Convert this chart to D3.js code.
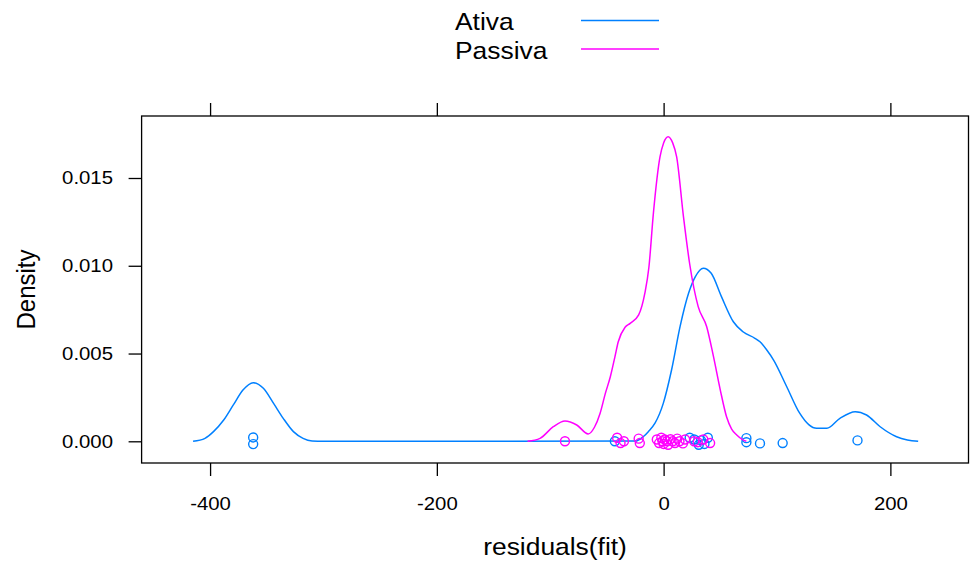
<!DOCTYPE html>
<html lang="en">
<head>
  <meta charset="UTF-8">
  <title>Density of residuals</title>
  <script src="https://d3js.org/d3.v7.min.js"></script>
  <style>
    body { margin: 0; background: #fff; }
    text { font-family: "Liberation Sans", Arial, sans-serif; fill: #000; }
  </style>
</head>
<body>
  <svg id="chart" width="972" height="567"></svg>
  <script>
    // groups
    const groups = ["Ativa", "Passiva"];
    const colors = ["#0080ff", "#ff00ff"];

    // density curves
    const ativaX = [-415, -404.5, -397, -388, -379.5, -371, -362, -353, -344, -335.5, -326.5, -318, -310, -300,
      -25, -18, -13.5, -7.6, -0.3, 7, 14.5, 22, 28, 35, 42, 51, 61.5, 70, 80.5, 85, 91, 97, 108.6, 120, 128,
      135, 144, 155.5, 169, 179, 191, 205.5, 215, 224.5];
    const ativaY = [0, 0.00017, 0.00055, 0.00121, 0.00207, 0.00292, 0.00334, 0.00302, 0.00216, 0.00131, 0.00055, 0.00017, 0.00002, 0,
      0.00001, 0.00026, 0.00055, 0.00103, 0.00216, 0.00406, 0.00653, 0.00843, 0.00938, 0.00986, 0.00957, 0.00824, 0.00681, 0.00624, 0.00587, 0.00567, 0.0052, 0.00463, 0.00311, 0.0016, 0.00095,
      0.00074, 0.00074, 0.00131, 0.00169, 0.0015, 0.00083, 0.00026, 0.00008, 0];

    const passivaX = [-120, -109, -97.3, -87, -76.6, -66.5, -61, -56, -51.5, -47, -43, -40, -34, -29.5, -22, -16.5, -13,
      -9, -3.2, 0, 4, 8, 11.5, 17.5, 23, 30.5, 38, 44, 50, 55.5, 60, 64.5, 70, 73];
    const passivaY = [0, 0.00017, 0.00083, 0.00116, 0.00093, 0.00042, 0.0008, 0.0016, 0.0027, 0.00368, 0.0048, 0.00567, 0.0065, 0.00672, 0.0072, 0.00845, 0.0099,
      0.013, 0.0162, 0.0170, 0.01735, 0.0170, 0.0162, 0.0128, 0.0101, 0.00767, 0.00653, 0.00482, 0.00292, 0.0014, 0.0007, 0.00036, 0.00008, 0];

    // rug points (residuals) and their small vertical offsets
    const ativaRug = [-362, -362, -43, 23, 27, 31, 33, 36, 39, 73, 73, 85, 105, 171];
    const ativaJit = [0.00022, -0.00016, 0, 0.0002, 0.0001, -0.0002, 0.00005, -0.00015, 0.0002, 0.00018, -0.00005, -0.00012, -0.0001, 0.00005];
    const passivaRug = [-87, -41, -38, -35, -22, -21, -6, -4, -2, -1, 0, 1, 3, 4, 6, 8, 10, 12, 14, 17, 19, 27, 30, 35, 41];
    const passivaJit = [0, 0.0002, -0.0001, 0, 0.00015, -0.0001, 0.0001, -0.0001, 0.0002, 0, -0.00015, 0.0001, 0, -0.0002, 0.00012, 0, -0.0001, 0.00015, 0, -0.00012, 0.0001, 0, -0.00005, 0.0001, -0.0001];

    const xTicks = [-400, -200, 0, 200];
    const yTicks = [0, 0.005, 0.010, 0.015];

    const svg = d3.select("#chart");
    const panel = { left: 141.6, right: 968.5, top: 116, bottom: 463 };

    const x = d3.scaleLinear().domain([-460.4, 268.9]).range([panel.left, panel.right]);
    const y = d3.scaleLinear().domain([0, 0.015]).range([441.3, 178]);

    // text in the picture is a little wider than tall
    const sx = "scale(1.1,1)";

    // axes
    const bottomAxis = svg.append("g")
      .attr("transform", "translate(0," + panel.bottom + ")")
      .call(d3.axisBottom(x).tickValues(xTicks).tickSize(13).tickPadding(21).tickFormat(d => String(d)));
    bottomAxis.selectAll("text").style("font-size", "18.5px").attr("transform", sx);

    svg.append("g")
      .attr("transform", "translate(0," + panel.top + ")")
      .call(d3.axisTop(x).tickValues(xTicks).tickSize(13).tickFormat(""));

    const leftAxis = svg.append("g")
      .attr("transform", "translate(" + panel.left + ",0)")
      .call(d3.axisLeft(y).tickValues(yTicks).tickSize(13).tickPadding(13).tickFormat(d3.format(".3f")));
    leftAxis.selectAll("text").style("font-size", "18.5px").attr("transform", sx).attr("x", -26);

    svg.selectAll(".domain").remove();
    svg.selectAll(".tick line").attr("stroke", "#000").attr("stroke-width", 1.3);

    // clip region
    svg.append("clipPath").attr("id", "clip")
      .append("rect")
      .attr("x", panel.left).attr("y", panel.top)
      .attr("width", panel.right - panel.left).attr("height", panel.bottom - panel.top);

    const plot = svg.append("g").attr("clip-path", "url(#clip)");

    const line = d3.line().x(d => x(d[0])).y(d => y(d[1])).curve(d3.curveMonotoneX);

    const series = [
      { xs: ativaX, ys: ativaY, rug: ativaRug, jit: ativaJit },
      { xs: passivaX, ys: passivaY, rug: passivaRug, jit: passivaJit }
    ];

    series.forEach((s, i) => {
      plot.append("path")
        .datum(s.xs.map((v, j) => [v, s.ys[j]]))
        .attr("d", line)
        .attr("fill", "none")
        .attr("stroke", colors[i])
        .attr("stroke-width", 1.5);

      plot.selectAll("circle.g" + i)
        .data(s.rug.map((v, j) => [v, s.jit[j]]))
        .join("circle")
        .attr("class", "g" + i)
        .attr("cx", d => x(d[0]))
        .attr("cy", d => y(d[1]))
        .attr("r", 4.5)
        .attr("fill", "none")
        .attr("stroke", colors[i])
        .attr("stroke-width", 1.4);
    });

    // panel border
    svg.append("rect")
      .attr("x", panel.left).attr("y", panel.top)
      .attr("width", panel.right - panel.left).attr("height", panel.bottom - panel.top)
      .attr("fill", "none").attr("stroke", "#000").attr("stroke-width", 1.3);

    // axis titles
    svg.append("text")
      .attr("transform", "translate(" + ((panel.left + panel.right) / 2) + ",555) " + sx)
      .attr("text-anchor", "middle")
      .style("font-size", "24px")
      .text("residuals(fit)");

    svg.append("text")
      .attr("transform", "translate(35," + ((panel.top + panel.bottom) / 2) + ") rotate(-90) scale(1,1.1)")
      .attr("text-anchor", "middle")
      .style("font-size", "24px")
      .text("Density");

    // legend
    const legend = svg.append("g");
    groups.forEach((g, i) => {
      legend.append("text")
        .attr("transform", "translate(455," + (30 + i * 29) + ") " + sx)
        .style("font-size", "24px")
        .text(g);
      legend.append("line")
        .attr("x1", 581).attr("x2", 659)
        .attr("y1", 20.5 + i * 28.5).attr("y2", 20.5 + i * 28.5)
        .attr("stroke", colors[i])
        .attr("stroke-width", 1.5);
    });
  </script>
</body>
</html>
